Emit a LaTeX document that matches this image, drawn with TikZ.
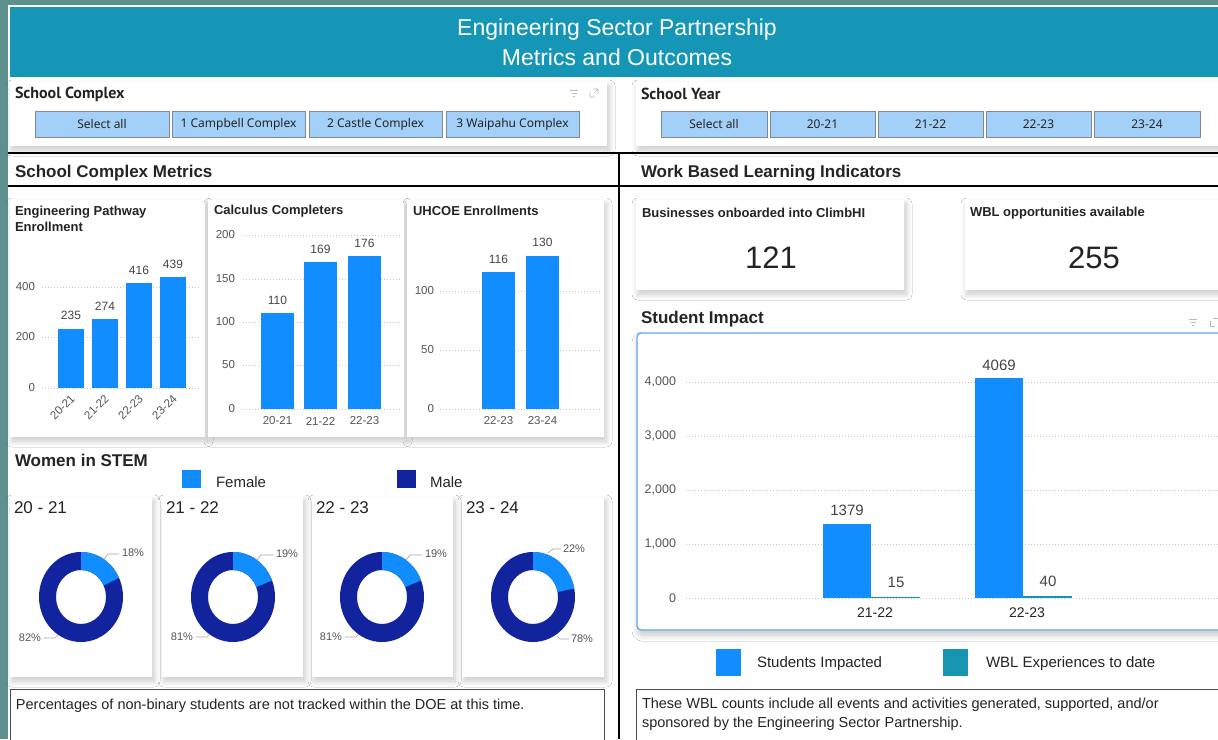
\documentclass[tikz,border=0pt]{standalone}
\usepackage{fontspec}
\setmainfont{Liberation Sans}
\newfontfamily\slfont{Noto Sans}
\newfontfamily\dinfont{PT Sans}
\usetikzlibrary{shadows.blur}
\definecolor{bgteal}{HTML}{5E918E}
\definecolor{hdr}{HTML}{1596B6}
\definecolor{pbblue}{HTML}{118DFF}
\definecolor{navy}{HTML}{12239E}
\definecolor{wbl}{HTML}{1595B0}
\definecolor{btn}{HTML}{A3D0F8}
\definecolor{btnline}{HTML}{7F8A96}
\definecolor{txt}{HTML}{252423}
\definecolor{axis}{HTML}{555555}
\definecolor{chartline}{HTML}{5DA9E9}
\tikzset{
  card/.style={fill=white, blur shadow={shadow xshift=2pt, shadow yshift=-4pt, shadow blur radius=6pt, shadow blur steps=10, shadow opacity=22}},
  btnbox/.style={fill=btn, draw=btnline, line width=0.8pt},
  btntext/.style={font=\slfont\fontsize{12}{14}\selectfont, text=txt},
  slicertitle/.style={anchor=west, font=\dinfont\bfseries\fontsize{16}{18}\selectfont, text=txt},
  sectitle/.style={anchor=west, font=\bfseries\fontsize{17}{20}\selectfont, text=txt},
  cardtitle/.style={anchor=west, font=\bfseries\fontsize{13}{16}\selectfont, text=txt, align=left},
  icon/.style={draw=gray!55, line width=0.6pt},
  divider/.style={draw=black, line width=2.8pt},
  gridl/.style={draw=gray!45, line width=0.6pt, dash pattern=on 0.7pt off 2.3pt},
  ylab/.style={anchor=east, font=\fontsize{11.5}{13}\selectfont, text=axis},
  xlab/.style={font=\fontsize{11.5}{13}\selectfont, text=axis},
  vlab/.style={font=\fontsize{12}{14}\selectfont, text=txt!85},
  bar/.style={fill=pbblue},
  pct/.style={font=\fontsize{11}{13}\selectfont, text=axis},
  leader/.style={draw=gray!70, line width=0.6pt},
  yeartitle/.style={anchor=west, font=\fontsize{17}{20}\selectfont, text=txt},
  legtext/.style={anchor=west, font=\fontsize{15}{18}\selectfont, text=txt},
  notebox/.style={draw=black!70, line width=1pt, fill=white},
  notetext/.style={anchor=west, font=\fontsize{14.5}{18.5}\selectfont, text=txt, align=left},
  bigval/.style={font=\fontsize{31}{36}\selectfont, text=txt},
}
\begin{document}
\begin{tikzpicture}[x=1pt,y=-1pt, every node/.style={inner sep=0pt, outer sep=0pt}]
\useasboundingbox (0,0) rectangle (1218,739);
\fill[bgteal] (0,0) rectangle (1218,739);
\fill[white] (8,5) rectangle (1218,739);
\fill[hdr] (10,7) rectangle (1218,77);
\node[text=white, font=\fontsize{23}{30}\selectfont, align=center] (title) at (617,42) {Engineering Sector Partnership\\Metrics and Outcomes};

% ---------- slicers ----------
\path[card] (10,82) rectangle (607,146);
\node[slicertitle] (sc) at (15,94) {School Complex};
\foreach \a/\b/\t [count=\i] in {35/169/Select all, 172/305/1 Campbell Complex, 309/442/2 Castle Complex, 446/579/3 Waipahu Complex}{
  \draw[btnbox] (\a,111) rectangle (\b,137);
  \node[btntext] (scb\i) at ({(\a+\b)/2},124) {\t};
}
\draw[icon] (570,90)--(578,90) (571.5,93)--(576.5,93) (573,96)--(575,96);
\draw[icon] (590,92)--(590,97)--(595,97) (593,89)--(598,89)--(598,94) (594,93)--(598,89);

\path[card] (636,82) rectangle (1225,146);
\node[slicertitle] (sy) at (641,94) {School Year};
\foreach \a/\b/\t [count=\i] in {661/767/Select all, 770/875/20-21, 878/983/21-22, 986/1091/22-23, 1094/1200/23-24}{
  \draw[btnbox] (\a,111) rectangle (\b,137);
  \node[btntext] (syb\i) at ({(\a+\b)/2},124) {\t};
}

% ---------- dividers ----------
\draw[divider] (8,153) -- (1218,153);
\draw[divider] (8,186) -- (1218,186);
\draw[divider] (619,153) -- (619,739);
\node[sectitle] (scm) at (15,173) {School Complex Metrics};
\node[sectitle] (wbli) at (641,173) {Work Based Learning Indicators};

% ---------- chart 1 ----------
\path[card] (10,200) rectangle (205,437);
\node[cardtitle, anchor=north west] (c1t) at (15,206) {Engineering Pathway\\Enrollment};
\foreach \yv/\lab in {388/0, 337/200, 287/400}{
  \draw[gridl] (42,\yv) -- (200,\yv);
  \node[ylab] at (35,\yv) {\lab};
}
\foreach \x/\v/\lab [count=\i] in {58/235/20-21, 92/274/21-22, 126/416/22-23, 160/439/23-24}{
  \pgfmathsetmacro\tp{388-\v*0.2525}
  \fill[bar] (\x,388) rectangle (\x+26,\tp);
  \node[vlab] (c1v\i) at (\x+13,\tp-13) {\v};
  \node[xlab, rotate=45, anchor=north east] (c1x\i) at (\x+12,394) {\lab};
}

% ---------- chart 2 ----------
\path[card] (208,200) rectangle (404,437);
\node[cardtitle] (c2t) at (214,211) {Calculus Completers};
\foreach \yv/\lab in {409/0, 365/50, 322/100, 279/150, 235/200}{
  \draw[gridl] (243,\yv) -- (400,\yv);
  \node[ylab] at (235,\yv) {\lab};
}
\foreach \x/\v/\lab [count=\i] in {261/110/20-21, 304/169/21-22, 348/176/22-23}{
  \pgfmathsetmacro\tp{409-\v*0.87}
  \fill[bar] (\x,409) rectangle (\x+33,\tp);
  \node[vlab] (c2v\i) at (\x+16.5,\tp-13) {\v};
  \node[xlab] (c2x\i) at (\x+16.5,421) {\lab};
}

% ---------- chart 3 ----------
\path[card] (407,200) rectangle (604,437);
\node[cardtitle] (c3t) at (413,211) {UHCOE Enrollments};
\foreach \yv/\lab in {409/0, 350/50, 291/100}{
  \draw[gridl] (440,\yv) -- (600,\yv);
  \node[ylab] at (434,\yv) {\lab};
}
\foreach \x/\v/\lab [count=\i] in {482/116/22-23, 526/130/23-24}{
  \pgfmathsetmacro\tp{409-\v*1.18}
  \fill[bar] (\x,409) rectangle (\x+33,\tp);
  \node[vlab] (c3v\i) at (\x+16.5,\tp-13) {\v};
  \node[xlab] (c3x\i) at (\x+16.5,421) {\lab};
}

% ---------- women in STEM ----------
\node[sectitle] (wis) at (15,460) {Women in STEM};
\fill[pbblue] (182,470) rectangle (201,488);
\node[legtext] (lf) at (216,482) {Female};
\fill[navy] (397,470) rectangle (416,488);
\node[legtext] (lm) at (430,482) {Male};

\foreach \xa/\xb/\cx/\yr/\p [count=\i] in {10/152/81/20 - 21/18, 162/303/233/21 - 22/19, 312/453/382/22 - 23/19, 462/604/533/23 - 24/22}{
  \path[card] (\xa,497) rectangle (\xb,677);
  \node[yeartitle] (yt\i) at (\xa+4,508) {\yr};
  \fill[navy, even odd rule] (\cx,597) ellipse[x radius=42, y radius=45] (\cx,597) ellipse[x radius=25, y radius=27];
  \pgfmathsetmacro\ea{90-\p*3.6}
  \fill[pbblue] plot[domain=90:\ea, samples=30] ({\cx+42*cos(\x)},{597-45*sin(\x)}) -- plot[domain=\ea:90, samples=30] ({\cx+25*cos(\x)},{597-27*sin(\x)}) -- cycle;
}
% labels
\node[pct, anchor=west] (p1f) at (122,553) {18\%};
\draw[leader] (104,559) -- (108,554) -- (119,554);
\node[pct, anchor=east] (p1m) at (41,638) {82\%};
\draw[leader] (58,635) -- (55,638) -- (44,638);
\node[pct, anchor=west] (p2f) at (276,554) {19\%};
\draw[leader] (257,560) -- (261,555) -- (273,555);
\node[pct, anchor=east] (p2m) at (193,637) {81\%};
\draw[leader] (210,634) -- (207,637) -- (196,637);
\node[pct, anchor=west] (p3f) at (425,554) {19\%};
\draw[leader] (406,560) -- (410,555) -- (422,555);
\node[pct, anchor=east] (p3m) at (342,637) {81\%};
\draw[leader] (359,634) -- (356,637) -- (345,637);
\node[pct, anchor=west] (p4f) at (563,549) {22\%};
\draw[leader] (548,553) -- (553,549) -- (561,549);
\node[pct, anchor=west] (p4m) at (571,639) {78\%};
\draw[leader] (557,636) -- (560,639) -- (569,639);

\draw[notebox] (10,689) rectangle (604,745);
\node[notetext] (n1) at (16,706) {Percentages of non-binary students are not tracked within the DOE at this time.};

% ---------- KPI cards ----------
\path[card] (636,200) rectangle (904,290);
\node[cardtitle] (k1t) at (642,213) {Businesses onboarded into ClimbHI};
\node[bigval] (k1v) at (771,258) {121};
\path[card] (965,200) rectangle (1225,290);
\node[cardtitle] (k2t) at (970,213) {WBL opportunities available};
\node[bigval] (k2v) at (1094,258) {255};

% ---------- student impact ----------
\node[sectitle] (sit) at (641,319) {Student Impact};
\draw[icon] (1189,319)--(1197,319) (1190.5,322)--(1195.5,322) (1192,325)--(1194,325);
\draw[icon] (1210,321)--(1210,326)--(1215,326) (1213,318)--(1218,318);
\path[draw=chartline, line width=1.3pt, fill=white, rounded corners=4pt, blur shadow={shadow xshift=1pt, shadow yshift=-5pt, shadow blur radius=6pt, shadow blur steps=10, shadow opacity=22}] (637,333) rectangle (1228,630);
\foreach \yv/\lab in {598/0, 544/{1,000}, 490/{2,000}, 436/{3,000}, 382/{4,000}}{
  \draw[gridl] (686,\yv) -- (1218,\yv);
  \node[ylab, font=\fontsize{12.5}{14}\selectfont] at (676,\yv) {\lab};
}
\foreach \x/\s/\w/\lab [count=\i] in {823/1379/15/21-22, 975/4069/40/22-23}{
  \pgfmathsetmacro\ts{598-\s*0.054}
  \pgfmathsetmacro\tw{598-\w*0.054}
  \fill[pbblue] (\x,598) rectangle (\x+48,\ts);
  \fill[wbl] (\x+48,598) rectangle (\x+97,{min(\tw,597.2)});
  \node[vlab, font=\fontsize{15}{17}\selectfont] (sv\i) at (\x+24,\ts-13) {\s};
  \node[vlab, font=\fontsize{15}{17}\selectfont] (wv\i) at (\x+73,\tw-15) {\w};
  \node[xlab, font=\fontsize{14}{16}\selectfont, text=txt] (sx\i) at (\x+52,613) {\lab};
}
\fill[pbblue] (716,649) rectangle (741,676);
\node[legtext] (ls) at (757,664) {Students Impacted};
\fill[wbl] (943,649) rectangle (968,676);
\node[legtext] (lw) at (986,664) {WBL Experiences to date};

\draw[notebox] (636,689) rectangle (1228,745);
\node[notetext, anchor=north west] (n2) at (642,698) {These WBL counts include all events and activities generated, supported, and/or\\sponsored by the Engineering Sector Partnership.};
\end{tikzpicture}
\end{document}
